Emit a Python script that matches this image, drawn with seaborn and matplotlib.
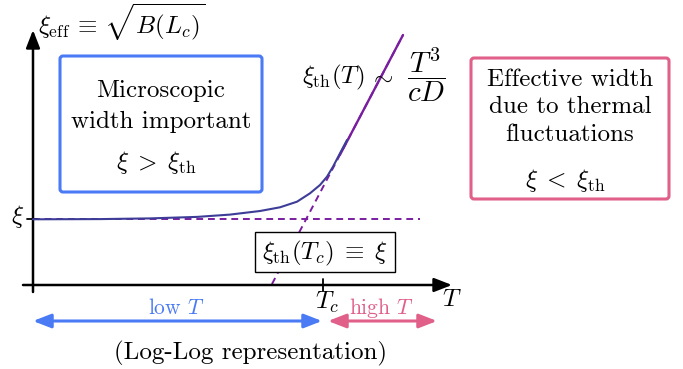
import matplotlib
matplotlib.use("Agg")
import matplotlib.pyplot as plt
import seaborn as sns
import pandas as pd
from matplotlib.patches import FancyBboxPatch, Rectangle

sns.set_theme(style="white")
plt.rcParams['font.family'] = ['cmr10', 'DejaVu Serif']
plt.rcParams['mathtext.fontset'] = 'cm'
plt.rcParams['axes.unicode_minus'] = False
plt.rcParams['text.color'] = 'black'

# ---- schematic data (canvas coordinates) ----
curve_x = [33, 100, 150, 197, 230, 260, 280, 297, 310, 320, 327, 333, 340, 347]
curve_y = [219.3, 219.1, 218.4, 216.9, 214.6, 211, 207.3, 201.7, 193.3, 185, 176.7, 166.7, 153.3, 140]
thermal_x = [272, 403]
thermal_y = [284, 35]
solid_from_x = 340
xi_level = 219
tc_x = 322.5

BLUE = "#4a7af4"
PINK = "#e0608a"
PURPLE = "#7a1ea0"
NAVY = "#3d3d98"

fig = plt.figure(figsize=(6.83, 3.69), dpi=100)
ax = fig.add_axes([0, 0, 1, 1])

slope = (thermal_y[1] - thermal_y[0]) / (thermal_x[1] - thermal_x[0])
# dashed horizontal xi level
ax.plot([33, 420], [xi_level, xi_level], ls=(0, (3.5, 2.5)), color=PURPLE, lw=1.4, zorder=2)
# dashed thermal line + solid part
ax.plot(thermal_x, thermal_y, ls=(0, (3.5, 2.5)), color=PURPLE, lw=1.4, zorder=2)
ax.plot([solid_from_x, thermal_x[1]], [thermal_y[0] + slope * (solid_from_x - thermal_x[0]), thermal_y[1]],
        color=PURPLE, lw=1.7, zorder=3)
df = pd.DataFrame({"x": curve_x, "y": curve_y})
sns.lineplot(data=df, x="x", y="y", ax=ax, color=NAVY, lw=1.5, sort=False, zorder=4)
ax.set_xlim(0, 683)
ax.set_ylim(369, 0)
ax.axis("off")

# axes arrows
ax.annotate("", xy=(452, 285), xytext=(23, 285),
            arrowprops=dict(arrowstyle="-|>,head_length=0.9,head_width=0.35", color="black", lw=1.8,
                            shrinkA=0, shrinkB=0))
ax.annotate("", xy=(33, 30), xytext=(33, 292),
            arrowprops=dict(arrowstyle="-|>,head_length=0.9,head_width=0.35", color="black", lw=1.8,
                            shrinkA=0, shrinkB=0))
ax.plot([tc_x, tc_x], [279, 291], color="black", lw=1.3)
ax.plot([27, 37], [xi_level, xi_level], color="black", lw=1.3)

fs = 18
ax.text(38, 22, r"$\xi_{\rm eff} \,\equiv\, \sqrt{B(L_c)}$", fontsize=fs, ha="left", va="center")
ax.text(18, 217, r"$\xi$", fontsize=fs, ha="center", va="center")
ax.text(452, 300, r"$T$", fontsize=fs, ha="center", va="center")
ax.text(327, 302, r"$T_c$", fontsize=fs, ha="center", va="center")

# blue box
ax.add_patch(FancyBboxPatch((60, 56), 202, 136, boxstyle="round,pad=0,rounding_size=3",
                            fill=False, ec=BLUE, lw=2.2))
ax.text(161, 91, "Microscopic", fontsize=fs, ha="center", va="center")
ax.text(161, 122, "width important", fontsize=fs, ha="center", va="center")
ax.text(156, 163, r"$\xi \;>\; \xi_{\rm th}$", fontsize=fs, ha="center", va="center")

# pink box
ax.add_patch(FancyBboxPatch((471, 58), 198, 141, boxstyle="round,pad=0,rounding_size=3",
                            fill=False, ec=PINK, lw=2.2))
ax.text(570, 80, "Effective width", fontsize=fs, ha="center", va="center")
ax.text(570, 107, "due to thermal", fontsize=fs, ha="center", va="center")
ax.text(570, 135, "fluctuations", fontsize=fs, ha="center", va="center")
ax.text(565, 180, r"$\xi \;<\; \xi_{\rm th}$", fontsize=fs, ha="center", va="center")

# thermal law
ax.text(333, 77, r"$\xi_{\rm th}(T)$", fontsize=fs, ha="center", va="center")
ax.text(381, 79, r"$\sim$", fontsize=fs, ha="center", va="center")
ax.text(426, 75, r"$\dfrac{T^3}{cD}$", fontsize=21, ha="center", va="center")

# crossing box
ax.add_patch(Rectangle((255, 232), 140, 40, fill=True, fc="white", ec="black", lw=1.0, zorder=5))
ax.text(325, 253, r"$\xi_{\rm th}(T_c) \;\equiv\; \xi$", fontsize=fs, ha="center", va="center", zorder=6)

# low / high T arrows
ax.annotate("", xy=(322, 321), xytext=(33, 321),
            arrowprops=dict(arrowstyle="<|-|>,head_length=0.9,head_width=0.35", color=BLUE, lw=2.2,
                            shrinkA=0, shrinkB=0))
ax.annotate("", xy=(437, 321), xytext=(328, 321),
            arrowprops=dict(arrowstyle="<|-|>,head_length=0.9,head_width=0.35", color=PINK, lw=2.2,
                            shrinkA=0, shrinkB=0))
ax.text(176, 308, r"low $T$", fontsize=15.5, ha="center", va="center", color=BLUE)
ax.text(381, 308, r"high $T$", fontsize=15.5, ha="center", va="center", color=PINK)

ax.text(251, 353, "(Log-Log representation)", fontsize=fs, ha="center", va="center")

fig.savefig("out.png", dpi=100)
